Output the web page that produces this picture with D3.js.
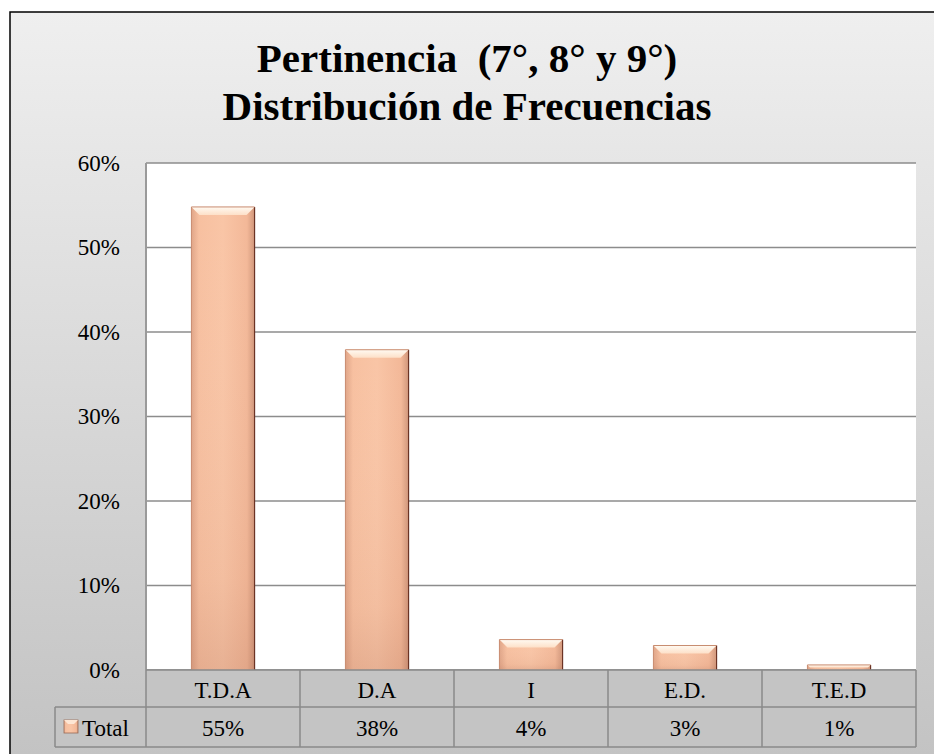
<!DOCTYPE html>
<html>
<head>
<meta charset="utf-8">
<script src="https://cdn.jsdelivr.net/npm/d3@7"></script>
<style>
  html, body { margin: 0; padding: 0; background: #fff; }
  svg { display: block; font-family: "Liberation Serif", "Times New Roman", serif; }
</style>
</head>
<body>
<svg id="chart" width="934" height="754"></svg>
<script>
// data
var categories = ['T.D.A', 'D.A', 'I', 'E.D.', 'T.E.D']
var values = [0.548, 0.379, 0.036, 0.029, 0.006]
var seriesName = 'Total'
var titleLines = ['Pertinencia  (7°, 8° y 9°)', 'Distribución de Frecuencias']
var yTicks = [0, 0.1, 0.2, 0.3, 0.4, 0.5, 0.6]

var svg = d3.select('#chart')
var pct = d3.format('.0%')
var serif = '"Liberation Serif", "Times New Roman", serif'

var plot = {left: 146, right: 916, top: 163, bottom: 670}
var row1 = 707, row2 = 747, tableLeft = 55

/** gradients */
var defs = svg.append('defs')
var bg = defs.append('linearGradient').attr('id', 'bgGrad').attr('x1', 0).attr('y1', 0).attr('x2', 0).attr('y2', 1)
bg.append('stop').attr('offset', '0%').attr('stop-color', '#efefef')
bg.append('stop').attr('offset', '100%').attr('stop-color', '#c2c2c2')

var barGrad = defs.append('linearGradient').attr('id', 'barGrad').attr('x1', 0).attr('y1', 0).attr('x2', 1).attr('y2', 0)
barGrad.append('stop').attr('offset', '0%').attr('stop-color', '#e0a588')
barGrad.append('stop').attr('offset', '12%').attr('stop-color', '#f7c0a0')
barGrad.append('stop').attr('offset', '50%').attr('stop-color', '#f9c5a6')
barGrad.append('stop').attr('offset', '88%').attr('stop-color', '#f3b898')
barGrad.append('stop').attr('offset', '100%').attr('stop-color', '#d0967a')

var barV = defs.append('linearGradient').attr('id', 'barShade').attr('x1', 0).attr('y1', 0).attr('x2', 0).attr('y2', 1)
barV.append('stop').attr('offset', '0%').attr('stop-color', '#ffffff').attr('stop-opacity', 0)
barV.append('stop').attr('offset', '80%').attr('stop-color', '#b0705a').attr('stop-opacity', 0.08)
barV.append('stop').attr('offset', '100%').attr('stop-color', '#a0604a').attr('stop-opacity', 0.2)

var bevelGrad = defs.append('linearGradient').attr('id', 'bevelGrad').attr('x1', 0).attr('y1', 0).attr('x2', 0).attr('y2', 1)
bevelGrad.append('stop').attr('offset', '0%').attr('stop-color', '#fffaf2')
bevelGrad.append('stop').attr('offset', '100%').attr('stop-color', '#fde0c8')

/** chart background + border */
svg.append('rect').attr('x', 10).attr('y', 12).attr('width', 940).attr('height', 760)
  .attr('fill', 'url(#bgGrad)').attr('stroke', '#000').attr('stroke-width', 1.5)

/** title */
svg.append('g').selectAll('text').data(titleLines).enter().append('text')
  .attr('x', 467).attr('y', function (d, i) { return 72 + i * 48 })
  .attr('text-anchor', 'middle').attr('font-weight', 'bold').attr('font-size', 41)
  .attr('font-family', serif).style('white-space', 'pre')
  .attr('fill', '#000').text(function (d) { return d })

/** scales */
var x = d3.scaleBand().domain(categories).range([plot.left, plot.right]).padding(0)
var y = d3.scaleLinear().domain([0, 0.6]).range([plot.bottom, plot.top])
var barW = x.bandwidth() * 0.41

/** plot area */
svg.append('rect').attr('x', plot.left).attr('y', plot.top)
  .attr('width', plot.right - plot.left).attr('height', plot.bottom - plot.top).attr('fill', '#fff')

/** gridlines */
svg.append('g').selectAll('line').data(yTicks).enter().append('line')
  .attr('x1', plot.left).attr('x2', plot.right)
  .attr('y1', function (d) { return y(d) }).attr('y2', function (d) { return y(d) })
  .attr('stroke', '#8c8c8c').attr('stroke-width', 1.5)

svg.append('line').attr('x1', plot.left).attr('x2', plot.left).attr('y1', plot.top).attr('y2', plot.bottom)
  .attr('stroke', '#9a9a9a').attr('stroke-width', 2)

/** y axis */
var yAxis = d3.axisLeft(y).tickValues(yTicks).tickFormat(pct).tickSize(0).tickPadding(26)
var ya = svg.append('g').attr('transform', 'translate(' + plot.left + ',0)').call(yAxis)
  .attr('font-family', serif).attr('font-size', 23)
ya.select('.domain').remove()
ya.selectAll('text').attr('fill', '#000').attr('dy', '0.32em')

/** bars */
var barX = function (d, i) { return x(categories[i]) + (x.bandwidth() - barW) / 2 }
var bars = svg.append('g').selectAll('g').data(values).enter().append('g')
bars.append('rect')
  .attr('x', barX).attr('y', function (d) { return y(d) })
  .attr('width', barW).attr('height', function (d) { return y(0) - y(d) })
  .attr('fill', 'url(#barGrad)')
bars.append('rect')
  .attr('x', barX).attr('y', function (d) { return y(d) })
  .attr('width', barW).attr('height', function (d) { return y(0) - y(d) })
  .attr('fill', 'url(#barShade)')
bars.append('path')
  .attr('d', function (d, i) {
    var x0 = barX(d, i), x1 = x0 + barW
    var h = Math.min(8, (y(0) - y(d)) / 2), t = y(d)
    return 'M' + x0 + ',' + t + 'L' + x1 + ',' + t + 'L' + (x1 - h) + ',' + (t + h) + 'L' + (x0 + h) + ',' + (t + h) + 'Z'
  })
  .attr('fill', 'url(#bevelGrad)')
bars.append('path')
  .attr('d', function (d, i) {
    var x1 = barX(d, i) + barW
    return 'M' + x1 + ',' + y(d) + 'L' + x1 + ',' + y(0)
  })
  .attr('stroke', '#6b3324').attr('stroke-width', 1.2).attr('fill', 'none')
bars.append('path')
  .attr('d', function (d, i) {
    var x0 = barX(d, i), x1 = x0 + barW
    return 'M' + x0 + ',' + y(0) + 'L' + x0 + ',' + y(d) + 'L' + x1 + ',' + y(d)
  })
  .attr('stroke', '#c88c70').attr('stroke-width', 1).attr('fill', 'none')

/** data table */
var tbl = svg.append('g').attr('font-family', serif)
tbl.append('rect').attr('x', plot.left).attr('y', plot.bottom).attr('width', plot.right - plot.left)
  .attr('height', row2 - plot.bottom).attr('fill', '#c4c4c4')
tbl.append('rect').attr('x', tableLeft).attr('y', row1).attr('width', plot.left - tableLeft)
  .attr('height', row2 - row1).attr('fill', '#c4c4c4')

var lineStyle = function (sel) { return sel.attr('stroke', '#8a8a8a').attr('stroke-width', 1.5) }
lineStyle(tbl.append('line').attr('x1', plot.left).attr('x2', plot.right).attr('y1', plot.bottom).attr('y2', plot.bottom))
lineStyle(tbl.append('line').attr('x1', tableLeft).attr('x2', plot.right).attr('y1', row1).attr('y2', row1))
lineStyle(tbl.append('line').attr('x1', tableLeft).attr('x2', plot.right).attr('y1', row2).attr('y2', row2))
lineStyle(tbl.append('line').attr('x1', tableLeft).attr('x2', tableLeft).attr('y1', row1).attr('y2', row2))
var cols = categories.map(function (c) { return x(c) }).concat([plot.right])
tbl.selectAll('line.col').data(cols).enter().append('line').attr('class', 'col')
  .attr('x1', function (d) { return d }).attr('x2', function (d) { return d })
  .attr('y1', plot.bottom).attr('y2', row2)
  .attr('stroke', '#8a8a8a').attr('stroke-width', 1.5)

tbl.selectAll('text.cat').data(categories).enter().append('text').attr('class', 'cat')
  .attr('x', function (d) { return x(d) + x.bandwidth() / 2 }).attr('y', 698)
  .attr('text-anchor', 'middle').attr('font-size', 23).text(function (d) { return d })
tbl.selectAll('text.val').data(values).enter().append('text').attr('class', 'val')
  .attr('x', function (d, i) { return x(categories[i]) + x.bandwidth() / 2 }).attr('y', 736)
  .attr('text-anchor', 'middle').attr('font-size', 23).text(function (d) { return pct(d) })

/** legend key */
tbl.append('rect').attr('x', 64).attr('y', 720).attr('width', 14).attr('height', 13).attr('fill', 'url(#barGrad)')
  .attr('stroke', '#9a6a55').attr('stroke-width', 0.8)
tbl.append('path').attr('d', 'M64,720L78,720L74,724L68,724Z').attr('fill', '#fde6d4')
tbl.append('text').attr('x', 82).attr('y', 736).attr('font-size', 23).text(seriesName)
</script>
</body>
</html>
